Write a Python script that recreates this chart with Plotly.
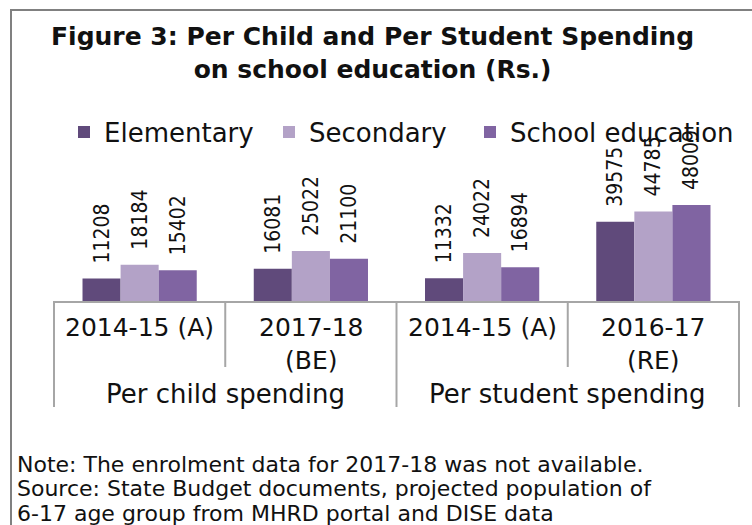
import plotly.graph_objects as go

# ---------------- data ----------------
periods = ["2014-15 (A)", "2017-18\n(BE)", "2014-15 (A)", "2016-17\n(RE)"]
groups = ["Per child spending", "Per student spending"]
group_sizes = [2, 2]
series_names = ["Elementary", "Secondary", "School education"]
elementary = [11208, 16081, 11332, 39575]
secondary = [18184, 25022, 24022, 44785]
school_education = [15402, 21100, 16894, 48009]
title_lines = ["Figure 3: Per Child and Per Student Spending",
               "on school education (Rs.)"]
note_lines = ["Note: The enrolment data for 2017-18 was not available.",
              "Source: State Budget documents, projected population of",
              "6-17 age group from MHRD portal and DISE data"]

# ---------------- styling ----------------
colors = ["#604A7B", "#B3A2C7", "#8064A2"]
W, H = 752, 525
L, R, T, B = 54, 739, 181, 301       # plot area in pixels
YMAX = 60000
FONT = "DejaVu Sans, Verdana, sans-serif"
NARROW = "Liberation Sans Narrow, DejaVu Sans Condensed, Arial Narrow, sans-serif"
TXT = "#111111"
GRID = "#a6a6a6"


def px_x(x):
    return (x - L) / (R - L)


def px_y(y):
    return (B - y) / (B - T)


xs = list(range(len(periods)))
values = [elementary, secondary, school_education]

fig = go.Figure()
legend_ids = ["legend", "legend2", "legend3"]
for name, vals, col, lg in zip(series_names, values, colors, legend_ids):
    fig.add_trace(go.Bar(
        x=xs, y=vals, name=name, marker=dict(color=col, line=dict(width=0)),
        texttemplate="\u00a0\u00a0%{y:.0f}", textposition="outside", textangle=-90,
        textfont=dict(family=NARROW, size=21, color=TXT),
        constraintext="none", cliponaxis=False, legend=lg,
        hoverinfo="skip"))

annotations = []
# title (one block, two lines)
annotations.append(dict(text="<br>".join("<b>%s</b>" % t for t in title_lines),
                        xref="paper", yref="paper",
                        x=px_x(372), y=px_y(53), showarrow=False,
                        xanchor="center", yanchor="middle", align="center",
                        font=dict(family=FONT, size=25, color=TXT)))
# category labels
for xi, p in zip(xs, periods):
    annotations.append(dict(text="<br>".join(p.split("\n")), xref="x", yref="paper",
                            x=xi, y=px_y(311), showarrow=False,
                            xanchor="center", yanchor="top", align="center",
                            font=dict(family=FONT, size=25, color=TXT)))
# group labels and dividers
shapes = []
n = len(periods)
start = 0
bounds = [0]
for g, s in zip(groups, group_sizes):
    center = start + (s - 1) / 2
    annotations.append(dict(text=g, xref="x", yref="paper", x=center,
                            y=px_y(394), showarrow=False,
                            xanchor="center", yanchor="middle",
                            font=dict(family=FONT, size=26, color=TXT)))
    start += s
    bounds.append(start)
for k in range(n + 1):
    full = k in bounds
    shapes.append(dict(type="line", xref="paper", yref="paper",
                       x0=k / n, x1=k / n, y0=0,
                       y1=px_y(407 if full else 367),
                       line=dict(color=GRID, width=2)))
# notes
for i, line in enumerate(note_lines):
    annotations.append(dict(text=line, xref="paper", yref="paper",
                            x=px_x(15), y=px_y(464 + 24.5 * i), showarrow=False,
                            xanchor="left", yanchor="middle",
                            font=dict(family=FONT, size=22, color=TXT)))
# outer frame
shapes.append(dict(type="line", xref="paper", yref="paper",
                   x0=px_x(11), x1=px_x(11), y0=px_y(10), y1=px_y(540),
                   line=dict(color="#808080", width=2)))
shapes.append(dict(type="line", xref="paper", yref="paper",
                   x0=px_x(10), x1=px_x(770), y0=px_y(10), y1=px_y(10),
                   line=dict(color="#808080", width=2)))

legend_x = [78, 283, 484]
leg_common = dict(orientation="h", xref="container", yref="container",
                  yanchor="middle", xanchor="left", bgcolor="rgba(0,0,0,0)",
                  font=dict(family=FONT, size=26, color=TXT),
                  itemwidth=30, borderwidth=0)
layout_legends = {}
for lg, lx in zip(legend_ids, legend_x):
    layout_legends[lg] = dict(leg_common, x=(lx - 14) / W, y=1 - 132 / H)

fig.update_layout(
    width=W, height=H,
    margin=dict(l=L, r=W - R, t=T, b=H - B, pad=0),
    paper_bgcolor="white", plot_bgcolor="white",
    barmode="group", bargap=0.333, bargroupgap=0,
    xaxis=dict(range=[-0.5, n - 0.5], showgrid=False, zeroline=False,
               showline=True, linecolor=GRID, linewidth=2,
               showticklabels=False, ticks="", fixedrange=True),
    yaxis=dict(range=[0, YMAX], visible=False, fixedrange=True),
    annotations=annotations, shapes=shapes,
    showlegend=True,
    **layout_legends,
)

fig.write_html("out.html",
               config={"displayModeBar": False, "staticPlot": True},
               post_script="document.body.style.margin='0';"
                           "document.body.style.overflow='hidden';")
